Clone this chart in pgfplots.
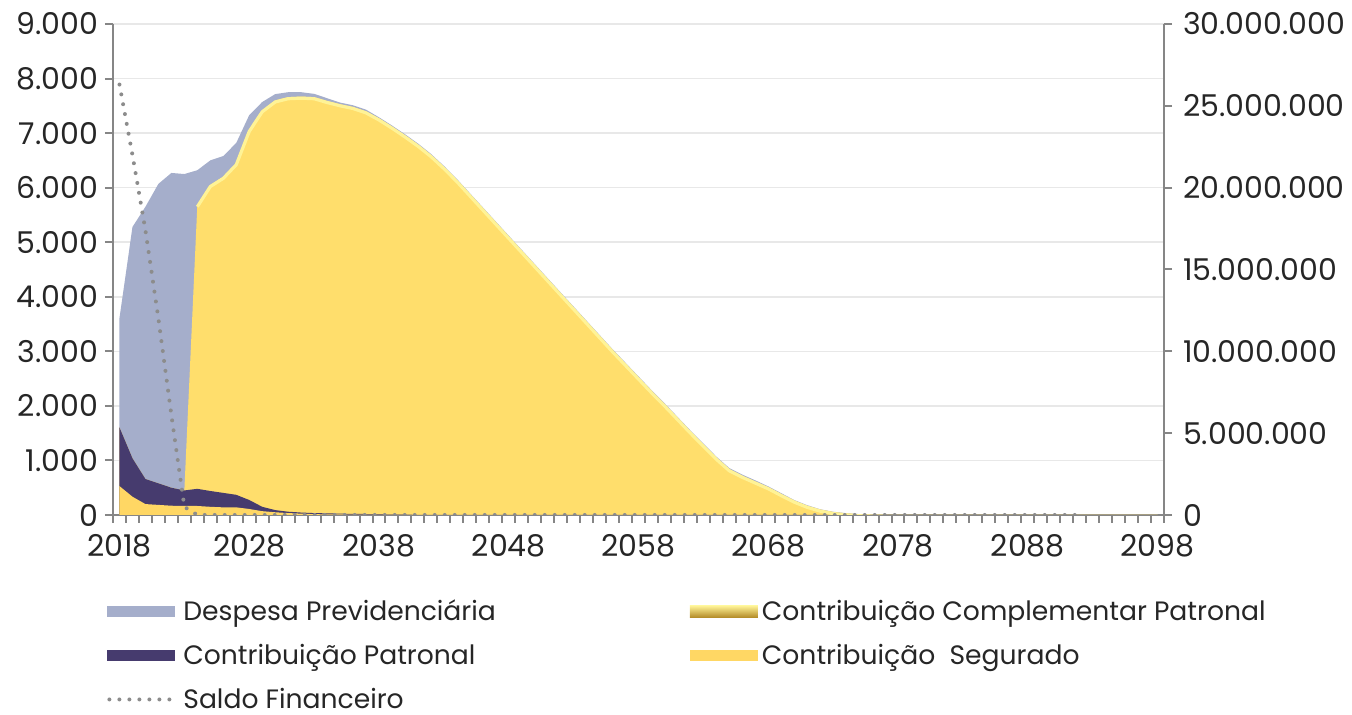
\documentclass[border=0pt]{standalone}
\usepackage{pgfplots}
\pgfplotsset{compat=1.18}
\usepackage{pgfplotstable}
\usepackage{fontspec}
\setmainfont{Poppins}
\definecolor{desp}{RGB}{165,174,203}
\definecolor{patr}{RGB}{70,59,110}
\definecolor{segu}{RGB}{255,215,100}
\definecolor{compc}{RGB}{255,222,108}
\definecolor{hilite}{RGB}{255,243,150}
\definecolor{compdark}{RGB}{180,140,40}
\definecolor{axgray}{RGB}{134,134,134}
\definecolor{gridc}{RGB}{232,232,232}
\definecolor{dotc}{RGB}{140,140,140}
\definecolor{txt}{RGB}{38,38,38}

\pgfplotstableread{
year desp seg pat comp saldo
2018 3610 530 1075 0 26300000
2019 5280 335 705 0 22000000
2020 5650 200 460 0 17400000
2021 6070 185 395 0 12000000
2022 6270 170 330 0 6100000
2023 6250 165 285 0 500000
2024 6320 165 315 5200 0
2025 6500 150 290 5610 0
2026 6580 140 265 5795 0
2027 6820 140 230 6080 0
2028 7330 110 165 6785 0
2029 7570 70 80 7270 0
2030 7715 50 40 7510 0
2031 7750 35 25 7600 0
2032 7750 25 20 7625 0
2033 7720 15 20 7625 0
2034 7640 12 18 7560 0
2035 7560 10 15 7505 0
2036 7510 8 12 7460 0
2037 7430 8 10 7382 0
2038 7290 6 9 7255 0
2039 7140 5 7 7108 0
2040 6980 5 5 6950 0
2041 6810 0 0 6790 0
2042 6620 0 0 6600 0
2043 6400 0 0 6380 0
2044 6160 0 0 6140 0
2045 5900 0 0 5880 0
2046 5640 0 0 5620 0
2047 5380 0 0 5360 0
2048 5120 0 0 5100 0
2049 4860 0 0 4840 0
2050 4600 0 0 4580 0
2051 4340 0 0 4320 0
2052 4080 0 0 4060 0
2053 3820 0 0 3800 0
2054 3560 0 0 3540 0
2055 3300 0 0 3280 0
2056 3040 0 0 3020 0
2057 2790 0 0 2770 0
2058 2540 0 0 2520 0
2059 2290 0 0 2270 0
2060 2050 0 0 2030 0
2061 1800 0 0 1780 0
2062 1550 0 0 1530 0
2063 1310 0 0 1290 0
2064 1070 0 0 1050 0
2065 860 0 0 840 0
2066 740 0 0 720 0
2067 635 0 0 615 0
2068 525 0 0 510 0
2069 400 0 0 385 0
2070 275 0 0 265 0
2071 180 0 0 170 0
2072 105 0 0 100 0
2073 60 0 0 55 0
2074 33 0 0 30 0
2075 17 0 0 15 0
2076 9 0 0 8 0
2077 5 0 0 4 0
2078 2 0 0 2 0
2079 0 0 0 0 0
2080 0 0 0 0 0
2081 0 0 0 0 0
2082 0 0 0 0 0
2083 0 0 0 0 0
2084 0 0 0 0 0
2085 0 0 0 0 0
2086 0 0 0 0 0
2087 0 0 0 0 0
2088 0 0 0 0 0
2089 0 0 0 0 0
2090 0 0 0 0 0
2091 0 0 0 0 0
2092 0 0 0 0 0
2093 0 0 0 0 nan
2094 0 0 0 0 nan
2095 0 0 0 0 nan
2096 0 0 0 0 nan
2097 0 0 0 0 nan
2098 0 0 0 0 nan
}\data

\begin{document}
\begin{tikzpicture}[font=\fontsize{15}{17}\selectfont]
\useasboundingbox (-56.5pt,-100pt) rectangle (619.5pt,257.5pt);
\begin{axis}[
  at={(0,0)}, anchor=south west, scale only axis,
  width=525.5pt, height=245.5pt,
  xmin=2017.5, xmax=2098.5, ymin=0, ymax=9000,
  axis x line*=bottom, axis y line*=left,
  axis line style={axgray, line width=1pt, -},
  tick align=outside,
  xtick={2018,2028,...,2098},
  minor xtick={2017.5,2018.5,...,2098.5},
  major x tick style={draw=none},
  minor x tick style={axgray, line width=1pt},
  minor tick length=4pt, major tick length=4pt,
  ytick={0,1000,...,9000},
  y tick style={axgray, line width=1pt},
  ymajorgrids, grid style={gridc, line width=0.8pt},
  /pgf/number format/assume math mode=true,
  x tick label style={text=txt, yshift=-2pt, /pgf/number format/1000 sep={}},
  y tick label style={text=txt, /pgf/number format/1000 sep={.}},
  legend columns=2,
  legend cell align=left,
  legend style={at={(0,0)}, anchor=north west, xshift=-6pt, yshift=-39.1pt,
    draw=none, fill=none, text=txt, row sep=8.3pt,
    nodes={inner ysep=1pt},
    font=\fontsize{13.3}{16}\selectfont,
    /tikz/column 2/.style={column sep=95pt}},
]
\addplot[fill=desp, draw=none,
  legend image code/.code={\fill[desp] (0pt,-2.9pt) rectangle (34pt,2.9pt);}]
  table[x=year, y=desp]{\data} \closedcycle;
\addlegendentry{Despesa Previdenciária}
\addplot[fill=compc, draw=none,
  legend image code/.code={\shade[top color=hilite, bottom color=compdark] (0pt,-2.9pt) rectangle (34pt,2.9pt);}]
  table[x=year, y expr=\thisrow{seg}+\thisrow{pat}+\thisrow{comp}]{\data} \closedcycle;
\addlegendentry{Contribuição Complementar Patronal}
\addplot[fill=patr, draw=none,
  legend image code/.code={\fill[patr] (0pt,-2.9pt) rectangle (34pt,2.9pt);}]
  table[x=year, y expr=\thisrow{seg}+\thisrow{pat}]{\data} \closedcycle;
\addlegendentry{Contribuição Patronal}
\addplot[fill=segu, draw=none,
  legend image code/.code={\fill[segu] (0pt,-2.9pt) rectangle (34pt,2.9pt);}]
  table[x=year, y=seg]{\data} \closedcycle;
\addlegendentry{Contribuição\ \ Segurado}
\addplot[hilite, line width=1.6pt, yshift=-0.8pt, forget plot,
  restrict x to domain=2023.5:2100]
  table[x=year, y expr=\thisrow{seg}+\thisrow{pat}+\thisrow{comp}]{\data};
\addlegendimage{legend image code/.code={\draw[dotc, line width=2pt, line cap=round, dash pattern=on 0pt off 5pt] (1pt,0pt) -- (35pt,0pt);}}
\addlegendentry{Saldo Financeiro}
\end{axis}
\begin{axis}[
  at={(0,0)}, anchor=south west, scale only axis,
  width=525.5pt, height=245.5pt,
  xmin=2017.5, xmax=2098.5, ymin=0, ymax=30000000,
  axis y line*=right, axis x line=none,
  axis line style={axgray, line width=1pt, -},
  tick align=outside, major tick length=4pt,
  ytick={0,5000000,10000000,15000000,20000000,25000000,30000000},
  scaled y ticks=false,
  y tick style={axgray, line width=1pt},
  y tick label style={text=txt, xshift=2pt, /pgf/number format/.cd, fixed, 1000 sep={.}, assume math mode=true},
]
\addplot[dotc, line width=2pt, line cap=round, dash pattern=on 0pt off 5pt]
  table[x=year, y=saldo]{\data};
\end{axis}
\end{tikzpicture}
\end{document}
